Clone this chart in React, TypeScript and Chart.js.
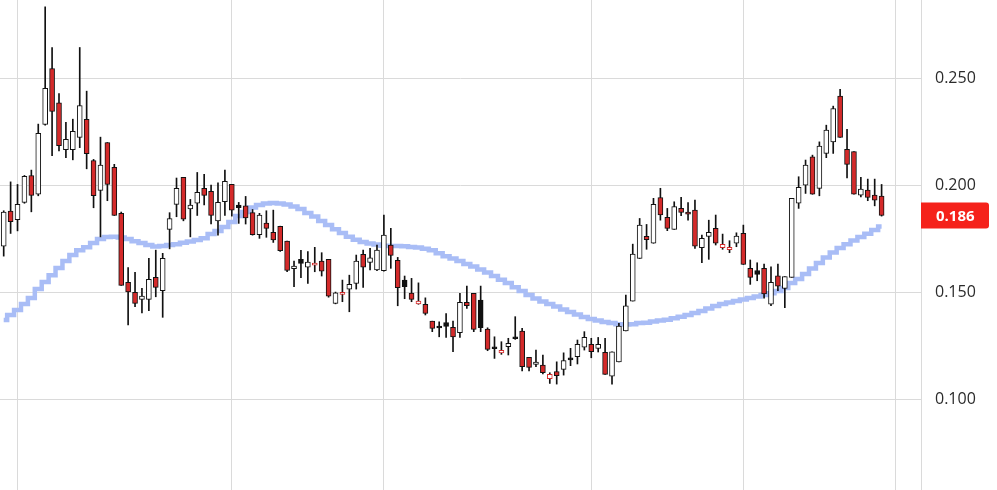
import React, { useEffect, useRef } from "react";
import { Chart, registerables } from "chart.js";

Chart.register(...registerables);

// Daily candles (oldest -> newest)
const open = [
  0.1715, 0.1879, 0.1838, 0.1919, 0.2045, 0.1957, 0.2284, 0.2545, 0.2385, 0.2165,
  0.2165, 0.2223, 0.2307, 0.2115, 0.1975, 0.2199, 0.2083, 0.1868, 0.1545, 0.1499,
  0.1466, 0.1466, 0.1569, 0.1506, 0.1793, 0.1910, 0.2036, 0.1889, 0.1915, 0.1985,
  0.1971, 0.1833, 0.1922, 0.2003, 0.1907, 0.1903, 0.1871, 0.1768, 0.1822, 0.1779,
  0.1807, 0.1738, 0.1609, 0.1653, 0.1616, 0.1626, 0.1645, 0.1653, 0.1447, 0.1489,
  0.1513, 0.1541, 0.1676, 0.1639, 0.1603, 0.1600, 0.1720, 0.1648, 0.1556, 0.1495,
  0.1445, 0.1443, 0.1364, 0.1336, 0.1358, 0.1335, 0.1310, 0.1452, 0.1494, 0.1463,
  0.1327, 0.1240, 0.1216, 0.1245, 0.1291, 0.1318, 0.1195, 0.1162, 0.1159, 0.1095,
  0.1129, 0.1139, 0.1187, 0.1198, 0.1242, 0.1256, 0.1237, 0.1218, 0.1107, 0.1174,
  0.1319, 0.1458, 0.1657, 0.1760, 0.1728, 0.1942, 0.1849, 0.1793, 0.1891, 0.1868,
  0.1883, 0.1707, 0.1760, 0.1798, 0.1707, 0.1698, 0.1728, 0.1774, 0.1611, 0.1601,
  0.1611, 0.1443, 0.1576, 0.1517, 0.1569, 0.1915, 0.2000, 0.2132, 0.1985, 0.2148,
  0.2202, 0.2416, 0.2167, 0.2157, 0.1953, 0.1977, 0.1953, 0.1949,
];
const high = [
  0.1880, 0.2015, 0.2003, 0.2045, 0.2070, 0.2285, 0.2833, 0.2643, 0.2428, 0.2293,
  0.2308, 0.2643, 0.2439, 0.2120, 0.2224, 0.2199, 0.2097, 0.1874, 0.1614, 0.1592,
  0.1517, 0.1658, 0.1696, 0.1681, 0.1871, 0.2033, 0.2036, 0.1933, 0.2059, 0.2050,
  0.2000, 0.2011, 0.2070, 0.2003, 0.1919, 0.1947, 0.1886, 0.1868, 0.1880, 0.1883,
  0.1808, 0.1738, 0.1645, 0.1695, 0.1689, 0.1709, 0.1684, 0.1653, 0.1500, 0.1556,
  0.1579, 0.1673, 0.1696, 0.1704, 0.1720, 0.1860, 0.1798, 0.1662, 0.1575, 0.1564,
  0.1543, 0.1473, 0.1364, 0.1361, 0.1400, 0.1364, 0.1494, 0.1528, 0.1494, 0.1528,
  0.1333, 0.1291, 0.1268, 0.1284, 0.1385, 0.1330, 0.1195, 0.1229, 0.1206, 0.1123,
  0.1174, 0.1216, 0.1237, 0.1276, 0.1315, 0.1284, 0.1288, 0.1284, 0.1221, 0.1354,
  0.1486, 0.1724, 0.1844, 0.1816, 0.1938, 0.1985, 0.1891, 0.1922, 0.1943, 0.1918,
  0.1930, 0.1766, 0.1836, 0.1860, 0.1771, 0.1740, 0.1777, 0.1813, 0.1650, 0.1637,
  0.1631, 0.1618, 0.1631, 0.1572, 0.1938, 0.2039, 0.2117, 0.2140, 0.2202, 0.2280,
  0.2369, 0.2447, 0.2260, 0.2157, 0.2036, 0.2028, 0.2028, 0.2003,
];
const low = [
  0.1668, 0.1774, 0.1786, 0.1915, 0.1875, 0.1950, 0.2280, 0.2137, 0.2160, 0.2128,
  0.2118, 0.2175, 0.2076, 0.1894, 0.1758, 0.1927, 0.1858, 0.1531, 0.1346, 0.1432,
  0.1403, 0.1413, 0.1478, 0.1382, 0.1702, 0.1852, 0.1833, 0.1758, 0.1858, 0.1907,
  0.1818, 0.1766, 0.1858, 0.1855, 0.1821, 0.1818, 0.1766, 0.1751, 0.1756, 0.1732,
  0.1690, 0.1595, 0.1525, 0.1567, 0.1541, 0.1595, 0.1575, 0.1476, 0.1445, 0.1455,
  0.1408, 0.1514, 0.1522, 0.1603, 0.1600, 0.1598, 0.1611, 0.1436, 0.1469, 0.1455,
  0.1443, 0.1393, 0.1315, 0.1291, 0.1288, 0.1221, 0.1288, 0.1424, 0.1315, 0.1315,
  0.1226, 0.1190, 0.1209, 0.1206, 0.1279, 0.1132, 0.1132, 0.1151, 0.1117, 0.1073,
  0.1070, 0.1112, 0.1156, 0.1164, 0.1229, 0.1193, 0.1220, 0.1115, 0.1070, 0.1174,
  0.1319, 0.1458, 0.1657, 0.1700, 0.1728, 0.1836, 0.1787, 0.1793, 0.1857, 0.1836,
  0.1704, 0.1637, 0.1653, 0.1720, 0.1700, 0.1684, 0.1712, 0.1629, 0.1536, 0.1553,
  0.1471, 0.1436, 0.1506, 0.1427, 0.1569, 0.1891, 0.1961, 0.1957, 0.1950, 0.2128,
  0.2148, 0.2223, 0.2034, 0.1957, 0.1945, 0.1927, 0.1903, 0.1855,
];
const close = [
  0.1874, 0.1829, 0.1910, 0.2041, 0.1952, 0.2242, 0.2452, 0.2344, 0.2184, 0.2214,
  0.2251, 0.2372, 0.2147, 0.1950, 0.2093, 0.2003, 0.1858, 0.1531, 0.1501, 0.1447,
  0.1481, 0.1559, 0.1522, 0.1658, 0.1844, 0.1985, 0.1841, 0.1907, 0.1966, 0.1952,
  0.1858, 0.1919, 0.2017, 0.1883, 0.1894, 0.1847, 0.1768, 0.1860, 0.1798, 0.1744,
  0.1693, 0.1601, 0.1621, 0.1634, 0.1640, 0.1636, 0.1598, 0.1481, 0.1497, 0.1489,
  0.1536, 0.1645, 0.1616, 0.1660, 0.1696, 0.1766, 0.1671, 0.1520, 0.1525, 0.1466,
  0.1458, 0.1400, 0.1330, 0.1332, 0.1340, 0.1290, 0.1452, 0.1436, 0.1326, 0.1334,
  0.1232, 0.1235, 0.1228, 0.1260, 0.1282, 0.1151, 0.1148, 0.1173, 0.1123, 0.1115,
  0.1109, 0.1180, 0.1183, 0.1256, 0.1288, 0.1221, 0.1256, 0.1115, 0.1221, 0.1341,
  0.1436, 0.1678, 0.1813, 0.1745, 0.1910, 0.1860, 0.1798, 0.1899, 0.1872, 0.1864,
  0.1715, 0.1751, 0.1779, 0.1728, 0.1723, 0.1709, 0.1762, 0.1629, 0.1569, 0.1583,
  0.1491, 0.1545, 0.1528, 0.1572, 0.1938, 0.1989, 0.2093, 0.1957, 0.2182, 0.2257,
  0.2358, 0.2223, 0.2097, 0.1957, 0.1981, 0.1942, 0.1930, 0.1858,
];
// Moving average overlay
const movingAvg = [
  0.1369, 0.1393, 0.1416, 0.1444, 0.1472, 0.1514, 0.1547, 0.1579, 0.1612, 0.1645,
  0.1673, 0.1696, 0.1710, 0.1729, 0.1748, 0.1757, 0.1759, 0.1755, 0.1748, 0.1738,
  0.1729, 0.1720, 0.1713, 0.1715, 0.1720, 0.1724, 0.1731, 0.1736, 0.1743, 0.1752,
  0.1771, 0.1785, 0.1804, 0.1827, 0.1855, 0.1874, 0.1895, 0.1907, 0.1914, 0.1916,
  0.1914, 0.1909, 0.1900, 0.1888, 0.1869, 0.1853, 0.1832, 0.1813, 0.1794, 0.1776,
  0.1759, 0.1745, 0.1734, 0.1727, 0.1722, 0.1717, 0.1715, 0.1715, 0.1714, 0.1711,
  0.1708, 0.1703, 0.1696, 0.1682, 0.1668, 0.1657, 0.1645, 0.1631, 0.1619, 0.1605,
  0.1591, 0.1575, 0.1558, 0.1542, 0.1523, 0.1505, 0.1486, 0.1470, 0.1456, 0.1444,
  0.1432, 0.1418, 0.1407, 0.1395, 0.1383, 0.1374, 0.1367, 0.1360, 0.1355, 0.1350,
  0.1348, 0.1350, 0.1355, 0.1357, 0.1362, 0.1367, 0.1371, 0.1378, 0.1385, 0.1393,
  0.1402, 0.1411, 0.1423, 0.1435, 0.1444, 0.1451, 0.1458, 0.1465, 0.1472, 0.1479,
  0.1486, 0.1495, 0.1505, 0.1519, 0.1542, 0.1561, 0.1584, 0.1610, 0.1636, 0.1661,
  0.1685, 0.1706, 0.1724, 0.1741, 0.1757, 0.1773, 0.1790, 0.1806,
];
// Candle indices where the time grid lines fall (month starts)
const timeGridIdx = [2, 33, 55, 85, 107, 129];
// Price axis ticks
const priceTicks = [0.1, 0.15, 0.2, 0.25];

const RED = "#d42a2a";
const BLACK = "#111111";
const WHITE = "#ffffff";
const GRID = "#dadada";
const FONT = "'Open Sans', 'DejaVu Sans', sans-serif";

export default function App() {
  const ref = useRef<HTMLCanvasElement | null>(null);

  useEffect(() => {
    const canvas = ref.current;
    if (!canvas) return;
    const n = close.length;
    const fills: string[] = [];
    const borders: string[] = [];
    for (let i = 0; i < n; i++) {
      const o = open[i];
      const c = close[i];
      const pc = i > 0 ? close[i - 1] : c;
      const falling = c < pc;
      if (c >= o) {
        fills.push(WHITE);
        borders.push(falling ? RED : BLACK);
      } else {
        fills.push(falling ? RED : BLACK);
        borders.push(BLACK);
      }
    }
    const bodies = close.map((c, i) => ({ x: i, y: [Math.min(open[i], c), Math.max(open[i], c)] }));
    const wicks = close.map((_, i) => ({ x: i, y: [low[i], high[i]] }));
    const ma = movingAvg.map((v, i) => ({ x: i, y: v }));

    const priceLabel = {
      id: "priceLabel",
      afterDraw(chart: any) {
        const { ctx, chartArea, scales } = chart;
        const last = close[close.length - 1];
        const y = scales.y.getPixelForValue(last);
        const x = chartArea.right;
        ctx.save();
        ctx.fillStyle = "#f5221b";
        ctx.beginPath();
        if ((ctx as any).roundRect) (ctx as any).roundRect(x, y - 13, 68, 26, [0, 3, 3, 0]);
        else ctx.rect(x, y - 13, 68, 26);
        ctx.fill();
        ctx.fillStyle = "#ffffff";
        ctx.font = `bold 15px ${FONT}`;
        ctx.textBaseline = "middle";
        ctx.textAlign = "left";
        ctx.fillText(last.toFixed(3), x + 15, y + 1);
        ctx.restore();
      },
    };

    const chart = new Chart(canvas, {
      type: "bar",
      data: {
        datasets: [
          {
            type: "bar",
            data: bodies as any,
            backgroundColor: fills,
            borderColor: borders,
            borderWidth: 1,
            borderSkipped: false,
            barThickness: 5,
            minBarLength: 2,
            grouped: false,
            order: 0,
          } as any,
          {
            type: "bar",
            data: wicks as any,
            backgroundColor: BLACK,
            borderWidth: 0,
            barThickness: 1,
            grouped: false,
            order: 1,
          } as any,
          {
            type: "line",
            data: ma as any,
            borderColor: "#a9bdf6",
            borderWidth: 4.5,
            pointRadius: 0,
            stepped: "middle",
            fill: false,
            order: 2,
          } as any,
        ],
      },
      options: {
        animation: false,
        responsive: false,
        devicePixelRatio: 1,
        events: [],
        layout: { padding: 0 },
        plugins: { legend: { display: false }, tooltip: { enabled: false } },
        scales: {
          x: {
            type: "linear",
            min: -0.535,
            max: 132.7,
            offset: false,
            ticks: { display: false },
            grid: { color: GRID, drawTicks: false, lineWidth: 1, offset: false },
            border: { display: false },
            afterBuildTicks: (s: any) => {
              s.ticks = timeGridIdx.map((v) => ({ value: v }));
            },
            afterFit: (s: any) => {
              s.height = 0;
              s.paddingLeft = 0;
              s.paddingRight = 0;
            },
          },
          y: {
            type: "linear",
            position: "right",
            min: 0.0575,
            max: 0.2865,
            grid: { color: GRID, drawTicks: false, lineWidth: 1 },
            border: { display: true, color: GRID },
            ticks: {
              padding: 14,
              color: "#2b2b2b",
              font: { family: FONT, size: 16 },
              callback: (v: any) => Number(v).toFixed(3),
            },
            afterBuildTicks: (s: any) => {
              s.ticks = priceTicks.map((v) => ({ value: v }));
            },
            afterFit: (s: any) => {
              s.width = 76;
              s.paddingTop = 0;
              s.paddingBottom = 0;
            },
          },
        },
      } as any,
      plugins: [priceLabel],
    });
    return () => chart.destroy();
  }, []);

  return (
    <div style={{ position: "fixed", left: 0, top: 0, width: 997, height: 490, background: "#fff" }}>
      <canvas ref={ref} width={997} height={490} style={{ display: "block" }} />
    </div>
  );
}
